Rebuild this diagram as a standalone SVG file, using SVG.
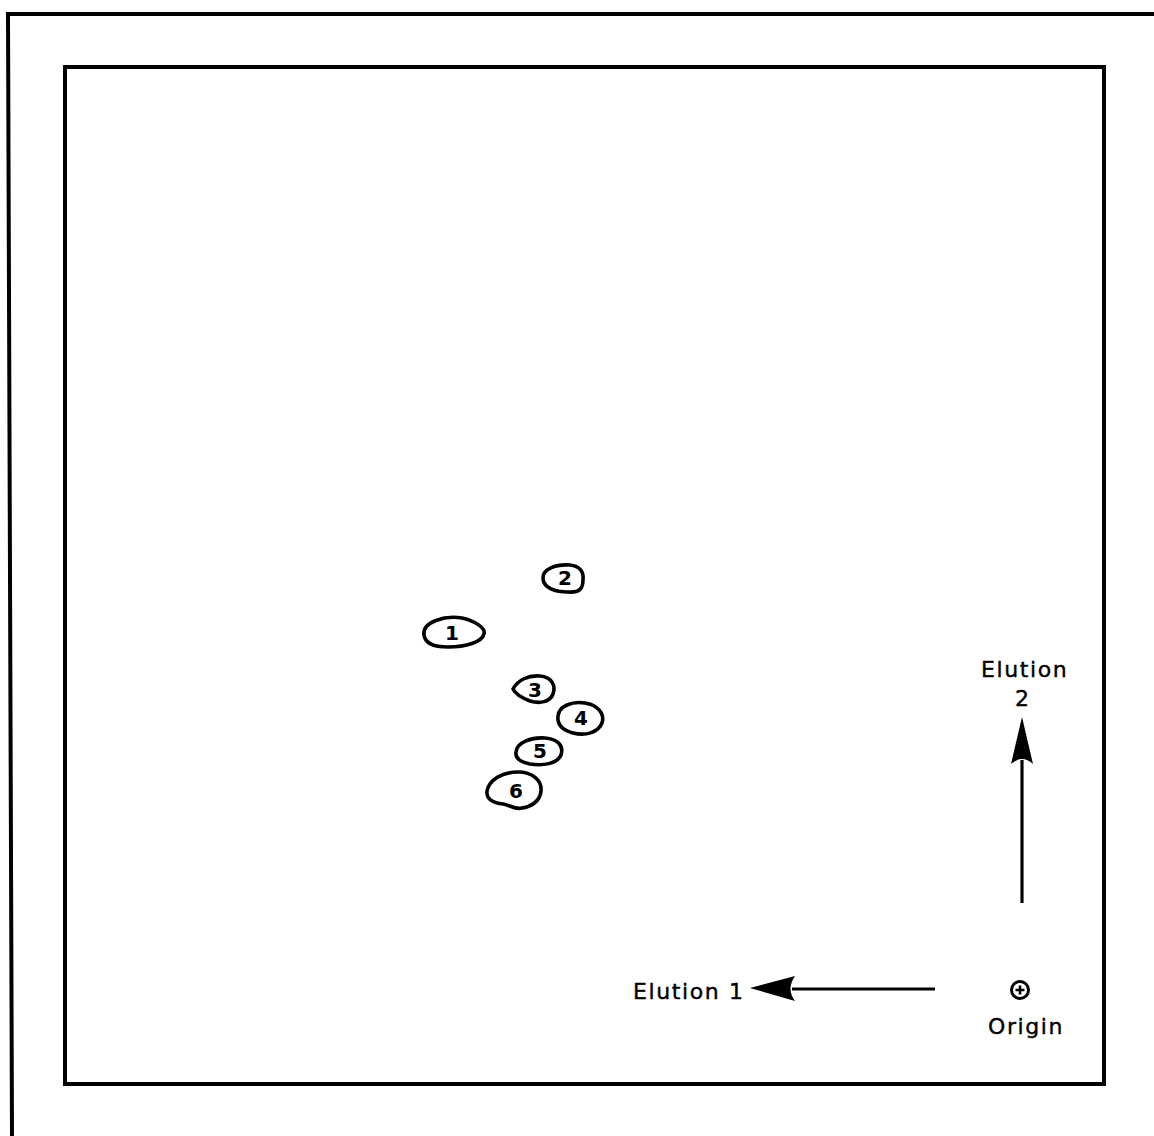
<svg xmlns="http://www.w3.org/2000/svg" width="1154" height="1136" viewBox="0 0 1154 1136">
  <style>
    .frame { fill: none; stroke: #000; stroke-width: 4; }
    .spot { fill: #fff; stroke: #000; stroke-width: 3.6; stroke-linejoin: round; }
    .num { font-family: "DejaVu Sans", "Liberation Sans", sans-serif; font-size: 20px; font-weight: bold; text-anchor: middle; fill: #000; }
    .lbl { font-family: "DejaVu Sans", "Liberation Sans", sans-serif; font-size: 22px; letter-spacing: 1.6px; fill: #000; stroke: #000; stroke-width: 0.4; }
    .shaft { stroke: #000; stroke-width: 3.2; fill: none; }
    .head { fill: #000; stroke: none; }
  </style>
  <rect width="1154" height="1136" fill="#fff"/>

  <!-- plate edges -->
  <g id="plate">
    <path class="frame" d="M1154,14 L8,14 L12,1136"/>
    <rect class="frame" x="65" y="67" width="1039" height="1017"/>
  </g>

  <!-- separated spots -->
  <g id="spot-1">
    <path class="spot" d="M424,635 C422,622 445,615 462,618 C475,621 486,628 484,634 C482,642 466,647 448,647 C434,647 425,643 424,635 Z"/>
    <text class="num" x="452" y="640">1</text>
  </g>
  <g id="spot-2">
    <path class="spot" d="M543,579 C542,569 556,564 570,565 C580,566 584,572 583,580 C583,588 580,593 568,592 C555,592 544,588 543,579 Z"/>
    <text class="num" x="565" y="585">2</text>
  </g>
  <g id="spot-3">
    <path class="spot" d="M513,689 C518,680 528,675 540,676 C552,677 556,686 553,694 C550,702 540,704 530,701 C522,698 516,695 513,689 Z"/>
    <text class="num" x="535" y="697">3</text>
  </g>
  <g id="spot-4">
    <path class="spot" d="M558,716 C559,706 572,701 585,703 C598,705 605,714 602,723 C598,733 585,736 573,733 C562,730 557,724 558,716 Z"/>
    <text class="num" x="581" y="725">4</text>
  </g>
  <g id="spot-5">
    <path class="spot" d="M516,752 C517,742 532,737 545,738 C558,739 564,746 561,755 C557,764 543,766 530,764 C520,762 515,758 516,752 Z"/>
    <text class="num" x="540" y="758">5</text>
  </g>
  <g id="spot-6">
    <path class="spot" d="M487,791 C489,780 502,772 518,772 C532,772 542,780 541,791 C540,802 530,807 522,808 C515,810 510,805 503,804 C493,803 486,799 487,791 Z"/>
    <text class="num" x="516" y="798">6</text>
  </g>

  <!-- origin mark -->
  <g id="origin">
    <circle cx="1020" cy="990" r="8.5" fill="none" stroke="#000" stroke-width="3"/>
    <path d="M1015.5,990 H1024.5 M1020,985.5 V994.5" stroke="#000" stroke-width="2.6"/>
    <text class="lbl" x="988" y="1034">Origin</text>
  </g>

  <!-- direction labels -->
  <g id="elution-1">
    <text class="lbl" x="633" y="999">Elution 1</text>
  </g>
  <g id="elution-2">
    <text class="lbl" x="981" y="677">Elution</text>
    <text class="lbl" x="1015" y="706">2</text>
  </g>

  <!-- direction arrows -->
  <g id="connectors">
    <path class="shaft" d="M935,989 H792"/>
    <path class="head" d="M750,988 L795,976 Q786,989 795,1001 Z"/>
    <path class="shaft" d="M1022,903 V760"/>
    <path class="head" d="M1022,717 L1033,764 Q1022,754 1011,764 Z"/>
  </g>
</svg>
